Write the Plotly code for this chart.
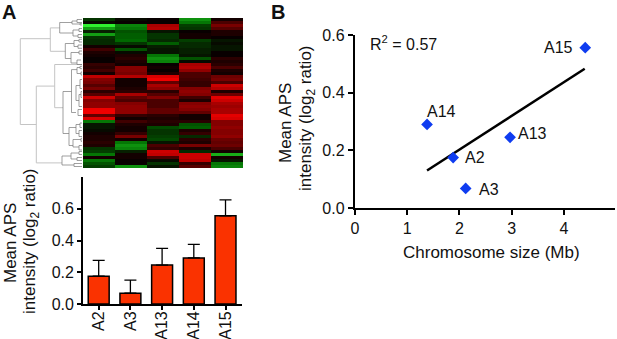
import plotly.graph_objects as go

W, H = 617, 339
FONT = "Liberation Sans"

# Panel A heatmap: rows top to bottom, columns A2 A3 A13 A14 A15
columns = ["A2", "A3", "A13", "A14", "A15"]
heat_rows = [
 [-.25,-.05,0,-.65,.05],[-.05,0,0,-.55,.3],[-1,-.6,.7,-.3,.5],[-.7,-.55,.75,-.25,.35],[-.15,-.4,-.1,0,.1],
 [-.7,-.45,-.25,.05,.1],[-.25,-.45,-.25,.05,0],[-.2,-.5,-.2,-.3,-.1],[-.2,-.25,-.45,-.2,-.05],[.05,-.05,-.15,-.2,-.1],
 [.25,-.4,-.1,-.15,-.1],[.1,-.05,-.1,-.15,0],[.05,.1,-.55,-.1,0],[0,.15,-.65,-.4,.15],[0,.1,-.6,-.05,.1],
 [.2,.05,0,.7,.15],[.15,.55,.05,.75,.3],[.25,.55,0,.6,.1],[.05,.5,.1,.3,.05],[.8,.75,.9,.3,.45],
 [.55,.05,1,.25,.5],[.5,.05,.4,.2,.3],[.35,.05,.7,.2,.85],[.5,.1,.6,.55,.75],[.15,.15,.15,.6,.1],
 [.35,.7,.35,.55,.45],[.85,.4,.55,.25,.95],[.55,.3,.3,.1,.85],[.6,.55,.3,.55,.7],[.6,.6,.3,.6,.65],
 [1,.6,.4,.55,.7],[1,.6,.4,.4,.7],[.4,.2,.15,.05,.95],[.9,.05,.1,.05,.9],[-.55,.25,.15,.15,.55],
 [-.1,.1,.1,-.4,.55],[-.1,.05,-.35,-.45,.6],[-.05,.05,-.25,.1,.55],[.05,.2,-.25,.2,.55],[.1,.5,-.3,-.2,.6],
 [.1,.05,-.35,.15,.45],[.15,-.55,-.1,.1,.4],[.1,-.65,.3,.5,.45],[-.25,-.6,.2,.1,.3],[-.3,-.15,.85,-.2,.05],
 [-.55,.05,.8,.85,-.75],[.05,.05,.3,.85,.05],[-.55,0,-.05,.8,-.1],[-.4,0,-.25,.2,-.55],[-.3,-.65,-.1,.35,-.6],
]

# Dendrogram brackets: (height, row_top, child_height_top, row_bottom, child_height_bottom)
dendro_outer = [
 (62.7,6.4,32.7,35,46.7),(32.7,2.8,23.3,10.6,17.7),(46.7,22.2,28.3,47.8,21),(28.3,15,1,29.4,20),
]
dendro_inner = [
 (23.3,1,11,4.5,10),(11,.5,6,1.5,3),(6,0,1,1,1),(3,1.3,1,1.8,1),(10,3.5,4,5.5,5),(4,3,1,4,1),(5,5,1,6,1),
 (17.7,8,9,13,12),(9,7,4,9,5),(4,6.6,1,7.5,1),(5,8.5,1,9.6,1),(12,11,4,14.5,6),(4,10.5,1,11.5,1),(6,13.5,2,15,1),
 (20,24,11.5,38,14),(11.5,16.7,6,31,7),(6,16,3,18,2),(3,15.6,1,16.4,1),(2,17.5,1,18.5,1),
 (7,22,3,27,4),(3,20,1,23,1),(4,25,2,29,1),(2,24,1,26,1),(5,30,1,32,1),
 (14,36,7,42,10),(7,35,3,38,4),(3,34.5,1,36,1),(4,37,1,39,1),(10,40,2,42.5,4),(2,39.6,1,40.6,1),(4,42,1,43.5,1),
 (21,45.5,12,48.5,9),(12,44.5,4,46.5,6),(4,44,1,45,1),(6,46,1,47,1),(9,48,1,49,1),
]

# Panel A bars
bar_means = [.175,.068,.245,.29,.556]
bar_errors = [.1,.082,.105,.085,.1]

# Panel B scatter
point_names = ["A2","A3","A13","A14","A15"]
chromosome_mb = [1.88,2.12,2.97,1.38,4.41]
mean_aps = [.175,.068,.245,.29,.556]
fit_x = [1.38,4.4]
fit_y = [.13,.483]
r2_text = "R<sup>2</sup> = 0.57"

def dx(a, b): return [a / W, b / W]
def dy(top, bottom): return [1 - bottom / H, 1 - top / H]

def bracket_path(items):
    xs, ys = [], []
    for h, r1, h1, r2, h2 in items:
        xs += [h1, h, h, h2, None]
        ys += [r1, r1, r2, r2, None]
    return xs, ys

fig = go.Figure()
fig.add_trace(go.Heatmap(
    z=heat_rows, x=columns, zmin=-1, zmax=1, showscale=False, xaxis="x", yaxis="y",
    colorscale=[[0, "#30f030"], [.25, "#006800"], [.5, "#080000"], [.75, "#780000"], [1, "#f00000"]], zsmooth=False))
xs, ys = bracket_path(dendro_outer)
fig.add_trace(go.Scatter(x=xs, y=ys, mode="lines", line=dict(color="#c4c4c4", width=1), xaxis="x4", yaxis="y4"))
xs, ys = bracket_path(dendro_inner)
fig.add_trace(go.Scatter(x=xs, y=ys, mode="lines", line=dict(color="#777777", width=.7), xaxis="x4", yaxis="y4"))

fig.add_trace(go.Bar(
    x=list(range(5)), y=bar_means, width=.66, xaxis="x2", yaxis="y2",
    marker=dict(color="#fa3200", line=dict(color="black", width=1.5)),
    error_y=dict(type="data", symmetric=False, array=bar_errors, arrayminus=[0] * 5,
                 color="black", thickness=1.3, width=6)))

fig.add_trace(go.Scatter(x=fit_x, y=fit_y, mode="lines", line=dict(color="black", width=2.5), xaxis="x3", yaxis="y3"))
fig.add_trace(go.Scatter(x=chromosome_mb, y=mean_aps, mode="markers", xaxis="x3", yaxis="y3",
                         marker=dict(symbol="diamond", size=9, color="#0f3cf0")))

tick = dict(ticks="outside", ticklen=4, tickwidth=1.6, tickcolor="black", linecolor="black",
            linewidth=1.8, showline=True, showgrid=False, zeroline=False, automargin=False,
            tickfont=dict(family=FONT, size=16, color="#111"))
tick_b = {**tick, "linewidth": 2.4, "tickwidth": 2.2, "ticklen": 5}

annos = []
def text(t, x, y, size=17, angle=0, bold=False, xanchor="center"):
    annos.append(dict(text=f"<b>{t}</b>" if bold else t, x=x / W, y=1 - y / H, xref="paper", yref="paper",
                      showarrow=False, textangle=angle, xanchor=xanchor, yanchor="middle",
                      font=dict(family=FONT, size=size, color="#111")))

text("A", 9, 12, 20, bold=True)
text("B", 278, 12, 20, bold=True)
text("Mean APS", 10, 243, angle=-90)
text("intensity (log<sub>2</sub> ratio)", 31, 241, angle=-90)
text("Mean APS", 285, 123, angle=-90)
text("intensity (log<sub>2</sub> ratio)", 307, 118, angle=-90)
text(r2_text, 368, 43, size=16, xanchor="left")
text("Chromosome size (Mb)", 491, 252)
label_offsets = {"A2": (10, 0), "A3": (11, -1), "A13": (6, 4), "A14": (-2, 12.5), "A15": (-10, 0)}
label_anchor = {"A2": "left", "A3": "left", "A13": "left", "A14": "left", "A15": "right"}
for n, a, b in zip(point_names, chromosome_mb, mean_aps):
    ox, oy = label_offsets[n]
    annos.append(dict(text=n, x=a, y=b, xref="x3", yref="y3", showarrow=False, xshift=ox, yshift=oy,
                      xanchor=label_anchor[n], yanchor="middle", font=dict(family=FONT, size=16, color="#111")))

fig.update_layout(
    width=W, height=H, margin=dict(l=0, r=0, t=0, b=0), showlegend=False,
    paper_bgcolor="white", plot_bgcolor="white", annotations=annos,
    xaxis=dict(domain=dx(83, 243), visible=False, automargin=False),
    yaxis=dict(domain=dy(18, 168), visible=False, autorange="reversed", automargin=False),
    xaxis4=dict(domain=dx(15, 83), range=[68, 0], visible=False, anchor="y4", automargin=False),
    yaxis4=dict(domain=dy(18, 168), range=[49.5, -.5], visible=False, anchor="x4", automargin=False),
    xaxis2=dict(domain=dx(83, 242), range=[-.495, 4.52], anchor="y2", tickmode="array",
                tickvals=list(range(5)), ticktext=columns, tickangle=-90, ticklabelstandoff=-5, **tick),
    yaxis2=dict(domain=dy(177, 304), range=[0, .8], anchor="x2", tickvals=[0, .2, .4, .6],
                tickformat=".1f", **tick),
    xaxis3=dict(domain=dx(355, 615), range=[0, 4.98], anchor="y3", tickvals=[0, 1, 2, 3, 4], **tick_b),
    yaxis3=dict(domain=dy(35, 208), range=[0, .6], anchor="x3", tickvals=[0, .2, .4, .6],
                tickformat=".1f", **tick_b),
)
fig.write_html("out.html", config=dict(displayModeBar=False),
               post_script="document.body.style.margin='0';document.body.style.overflow='hidden';")
